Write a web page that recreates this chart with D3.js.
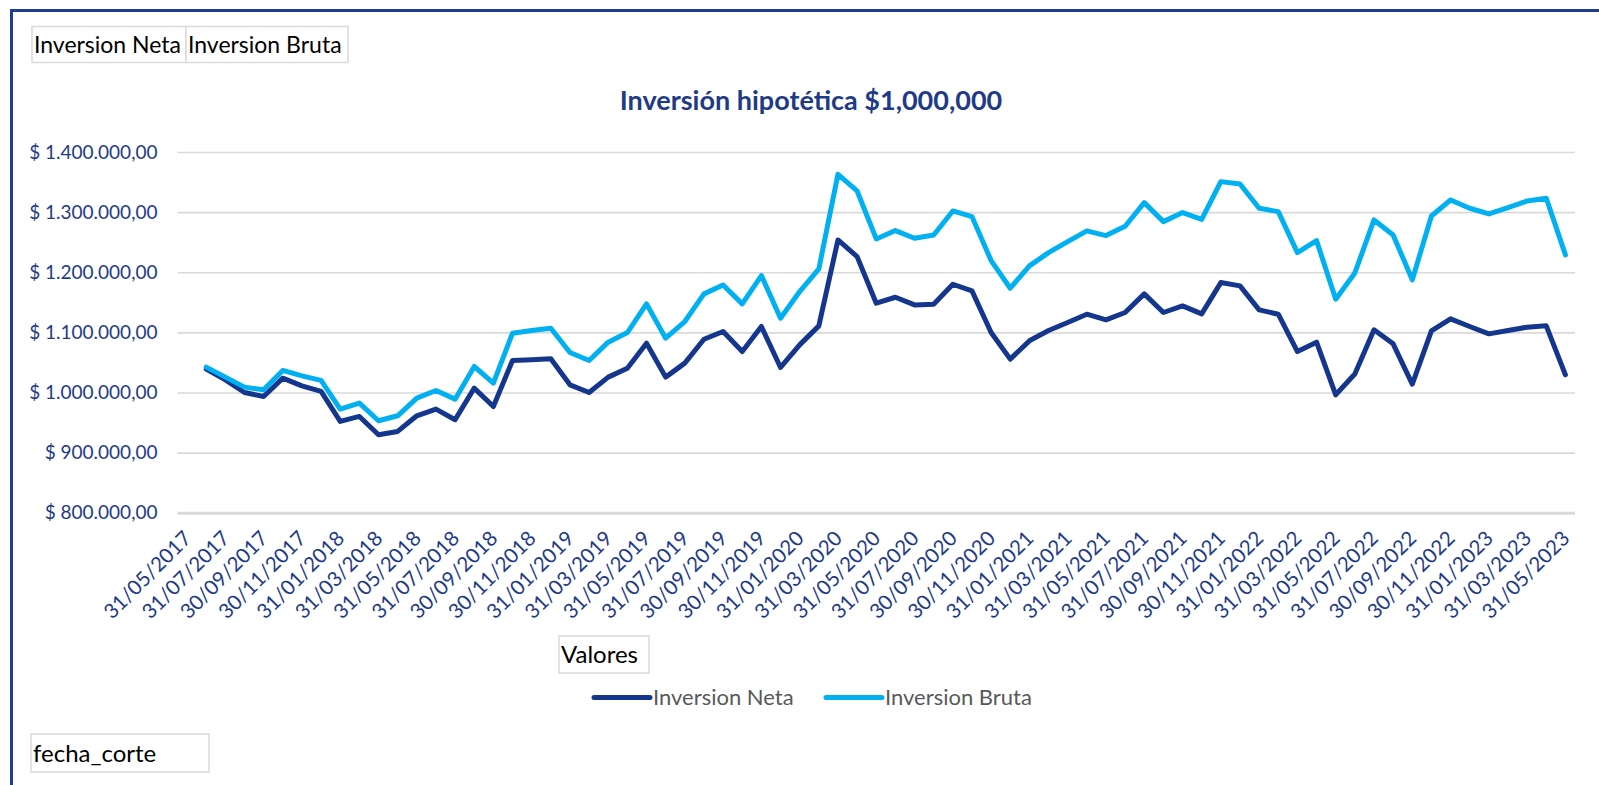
<!DOCTYPE html>
<html>
<head>
<meta charset="utf-8">
<script src="https://cdn.jsdelivr.net/npm/d3@7"></script>
<style>
  body { margin: 0; background: #fff; }
  svg text { font-family: Lato, "Open Sans", sans-serif; }
</style>
</head>
<body>
<div id="chart"></div>
<script>
// categorias (fin de mes)
var fechas = [
  '31/05/2017','30/06/2017','31/07/2017','31/08/2017','30/09/2017','31/10/2017','30/11/2017','31/12/2017',
  '31/01/2018','28/02/2018','31/03/2018','30/04/2018','31/05/2018','30/06/2018','31/07/2018','31/08/2018',
  '30/09/2018','31/10/2018','30/11/2018','31/12/2018','31/01/2019','28/02/2019','31/03/2019','30/04/2019',
  '31/05/2019','30/06/2019','31/07/2019','31/08/2019','30/09/2019','31/10/2019','30/11/2019','31/12/2019',
  '31/01/2020','29/02/2020','31/03/2020','30/04/2020','31/05/2020','30/06/2020','31/07/2020','31/08/2020',
  '30/09/2020','31/10/2020','30/11/2020','31/12/2020','31/01/2021','28/02/2021','31/03/2021','30/04/2021',
  '31/05/2021','30/06/2021','31/07/2021','31/08/2021','30/09/2021','31/10/2021','30/11/2021','31/12/2021',
  '31/01/2022','28/02/2022','31/03/2022','30/04/2022','31/05/2022','30/06/2022','31/07/2022','31/08/2022',
  '30/09/2022','31/10/2022','30/11/2022','31/12/2022','31/01/2023','28/02/2023','31/03/2023','30/04/2023',
  '31/05/2023'
];

var neta = [
  null, 1038800, 1021000, 1000000, 993400, 1023800, 1011000, 1001700,
  951800, 960100, 929600, 935200, 961200, 972300, 954600, 1007200,
  976700, 1053200, 1054300, 1056000, 1012700, 1000000, 1025500, 1040400,
  1082000, 1025500, 1048800, 1088600, 1101400, 1068100, 1109700, 1041600,
  1079200, 1110800, 1253700, 1226000, 1148500, 1158400, 1145700, 1146800,
  1180000, 1169000, 1099700, 1055400, 1085900, 1103000, 1116300, 1130200,
  1120800, 1133000, 1164000, 1133000, 1144000, 1130700, 1182800, 1177300,
  1137400, 1130200, 1068100, 1083700, 996100, 1030700, 1104200, 1080900,
  1013900, 1102500, 1122400, 1109700, 1097500, 1103000, 1108600, 1110800,
  1029400
];

var bruta = [
  null, 1042100, 1025500, 1008900, 1004400, 1036600, 1027700, 1020000,
  972300, 982300, 952900, 961200, 990600, 1003300, 988900, 1043200,
  1015500, 1098600, 1103000, 1106900, 1066500, 1053200, 1083700, 1099700,
  1147400, 1090300, 1118000, 1164000, 1178900, 1147400, 1194500, 1123500,
  1167900, 1205500, 1362900, 1335200, 1255400, 1269300, 1256500, 1262000,
  1301900, 1292500, 1219400, 1173400, 1210500, 1232700, 1251000, 1268700,
  1261000, 1276500, 1315800, 1284200, 1299200, 1288000, 1350700, 1346800,
  1306400, 1300800, 1232700, 1252600, 1155100, 1198800, 1287000, 1262000,
  1187300, 1293600, 1320200, 1306400, 1297000, 1307500, 1318600, 1323000,
  1228800
];

var yTicks = [800000, 900000, 1000000, 1100000, 1200000, 1300000, 1400000];
var series = [
  {name: 'Inversion Neta', values: neta, color: '#14368c'},
  {name: 'Inversion Bruta', values: bruta, color: '#00b0f0'}
];

var W = 1599, H = 785;
var pLeft = 177.5, pRight = 1575, pTop = 152, pBottom = 512.7;
var azul = '#1f3b87';

var svg = d3.select('#chart').append('svg')
  .attr('width', W)
  .attr('height', H);

// marco
svg.append('rect')
  .attr('x', 11.5).attr('y', 10.5)
  .attr('width', 1700).attr('height', 900)
  .attr('fill', 'none')
  .attr('stroke', '#1f3c8f')
  .attr('stroke-width', 3);

var x = d3.scalePoint()
  .domain(fechas)
  .range([pLeft, pRight])
  .padding(0.5);

var y = d3.scaleLinear()
  .domain([800000, 1400000])
  .range([pBottom, pTop]);

var loc = d3.formatLocale({decimal: ',', thousands: '.', grouping: [3], currency: ['$ ', '']});
var fmt = loc.format('$,.2f');

// eje y + grilla
var gy = svg.append('g')
  .attr('transform', 'translate(' + pLeft + ',0)')
  .call(d3.axisLeft(y).tickValues(yTicks).tickSize(-(pRight - pLeft)).tickPadding(20).tickFormat(fmt));
gy.select('.domain').remove();
gy.selectAll('.tick line')
  .attr('stroke', '#d9d9d9')
  .attr('stroke-width', function(d){ return d === 800000 ? 3 : 1.6; });
gy.selectAll('.tick text')
  .attr('fill', azul)
  .style('font-size', '19px');

// eje x
var etiquetas = fechas.filter(function(d, i){ return i % 2 === 0; });
var gx = svg.append('g')
  .attr('transform', 'translate(0,' + pBottom + ')')
  .call(d3.axisBottom(x).tickValues(etiquetas).tickSize(0).tickPadding(0));
gx.select('.domain').remove();
gx.selectAll('.tick text')
  .attr('fill', azul)
  .style('font-size', '20.5px')
  .attr('text-anchor', 'end')
  .attr('dy', null)
  .attr('transform', 'translate(5,27) rotate(-45)');

// lineas
var line = d3.line()
  .defined(function(d){ return d.v !== null; })
  .x(function(d){ return x(d.f); })
  .y(function(d){ return y(d.v); });

series.forEach(function(s){
  var pts = fechas.map(function(f, i){ return {f: f, v: s.values[i]}; });
  svg.append('path')
    .datum(pts)
    .attr('fill', 'none')
    .attr('stroke', s.color)
    .attr('stroke-width', 5)
    .attr('stroke-linejoin', 'round')
    .attr('stroke-linecap', 'round')
    .attr('d', line);
});

// titulo
svg.append('text')
  .attr('x', 811).attr('y', 110)
  .attr('text-anchor', 'middle')
  .attr('fill', azul)
  .style('font-size', '27px')
  .style('font-weight', 'bold')
  .text('Inversión hipotética $1,000,000');

// botones de campo
function boton(x0, y0, w, h, txt, fs){
  svg.append('rect')
    .attr('x', x0).attr('y', y0).attr('width', w).attr('height', h)
    .attr('fill', '#fff').attr('stroke', '#d9d9d9').attr('stroke-width', 1.5);
  svg.append('text')
    .attr('x', x0 + 2).attr('y', y0 + h / 2 + fs * 0.36)
    .attr('fill', '#000')
    .style('font-size', fs + 'px')
    .text(txt);
}
boton(32, 26.5, 154, 36, 'Inversion Neta', 23);
boton(186, 26.5, 162, 36, 'Inversion Bruta', 23);
boton(559, 636, 90, 37, 'Valores', 24);
boton(31, 734, 178, 38, 'fecha_corte', 24);

// leyenda
var leg = svg.append('g');
var legX = [594, 826];
series.forEach(function(s, i){
  leg.append('line')
    .attr('x1', legX[i]).attr('x2', legX[i] + 56)
    .attr('y1', 697.5).attr('y2', 697.5)
    .attr('stroke', s.color).attr('stroke-width', 5).attr('stroke-linecap', 'round');
  leg.append('text')
    .attr('x', legX[i] + 59).attr('y', 705)
    .attr('fill', '#595959')
    .style('font-size', '22px')
    .text(s.name);
});
</script>
</body>
</html>
